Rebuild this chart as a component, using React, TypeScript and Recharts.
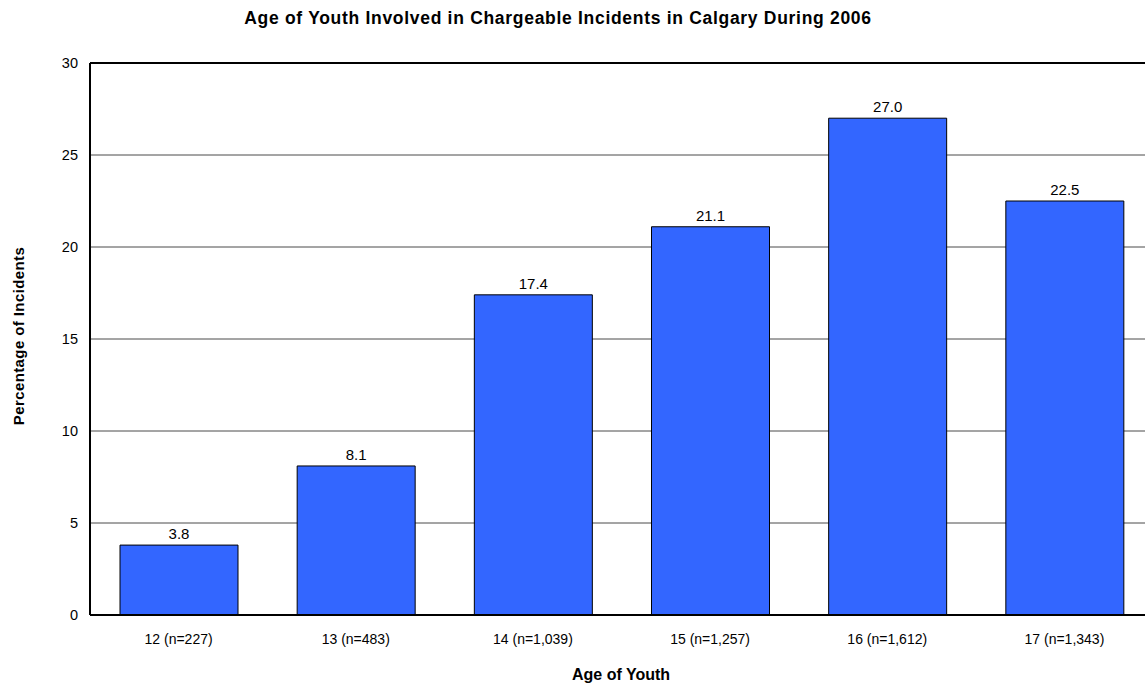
import { BarChart, Bar, XAxis, YAxis, CartesianGrid, ReferenceLine, LabelList } from "recharts";

// chart data
const ages = ["12 (n=227)", "13 (n=483)", "14 (n=1,039)", "15 (n=1,257)", "16 (n=1,612)", "17 (n=1,343)"];
const percentages = [3.8, 8.1, 17.4, 21.1, 27.0, 22.5];
const yTicks = [0, 5, 10, 15, 20, 25, 30];

const data = ages.map((age, i) => ({ age, pct: percentages[i] }));

const font = "'Liberation Sans', Arial, sans-serif";

const App = () => {
  return (
    <div
      style={{
        position: "absolute",
        left: 0,
        top: 0,
        width: 1145,
        height: 684,
        overflow: "hidden",
        background: "#fff",
        fontFamily: font,
      }}
    >
      <div
        style={{
          position: "absolute",
          top: 8,
          left: 0,
          width: 1116,
          textAlign: "center",
          fontSize: 17.5,
          letterSpacing: 0.7,
          fontWeight: "bold",
          color: "#000",
          zIndex: 1,
        }}
      >
        Age of Youth Involved in Chargeable Incidents in Calgary During 2006
      </div>
      <BarChart
        width={1160}
        height={684}
        data={data}
        margin={{ top: 63, right: 7, bottom: 0, left: 0 }}
        style={{ fontFamily: font }}
      >
        <CartesianGrid
          vertical={false}
          horizontal={{ shapeRendering: "crispEdges" }}
          stroke="#4a4a4a"
          strokeWidth={1}
        />
        <ReferenceLine y={30} stroke="#000" strokeWidth={2} />
        <XAxis
          dataKey="age"
          height={69}
          axisLine={{ stroke: "#000", strokeWidth: 2 }}
          tickLine={false}
          tickSize={0}
          tickMargin={19}
          tick={{ fill: "#000", fontSize: 14 }}
          label={{
            content: () => (
              <text
                x={621}
                y={674}
                textAnchor="middle"
                dominantBaseline="central"
                fontSize={16}
                fontWeight="bold"
                fill="#000"
              >
                Age of Youth
              </text>
            ),
          }}
        />
        <YAxis
          width={90}
          domain={[0, 30]}
          ticks={yTicks}
          axisLine={{ stroke: "#000", strokeWidth: 2 }}
          tickLine={false}
          tickSize={0}
          tickMargin={12}
          tick={{ fill: "#000", fontSize: 14.5 }}
          label={{
            content: () => (
              <text
                x={18}
                y={336}
                transform="rotate(-90 18 336)"
                textAnchor="middle"
                dominantBaseline="central"
                fontSize={15}
                letterSpacing={0.4}
                fontWeight="bold"
                fill="#000"
              >
                Percentage of Incidents
              </text>
            ),
          }}
        />
        <Bar dataKey="pct" fill="#3366FF" stroke="#000" strokeWidth={1} barSize={118} isAnimationActive={false}>
          <LabelList
            dataKey="pct"
            position="top"
            offset={6}
            formatter={(v: number) => v.toFixed(1)}
            style={{ fill: "#000", fontSize: 15 }}
          />
        </Bar>
      </BarChart>
    </div>
  );
};

export default App;
